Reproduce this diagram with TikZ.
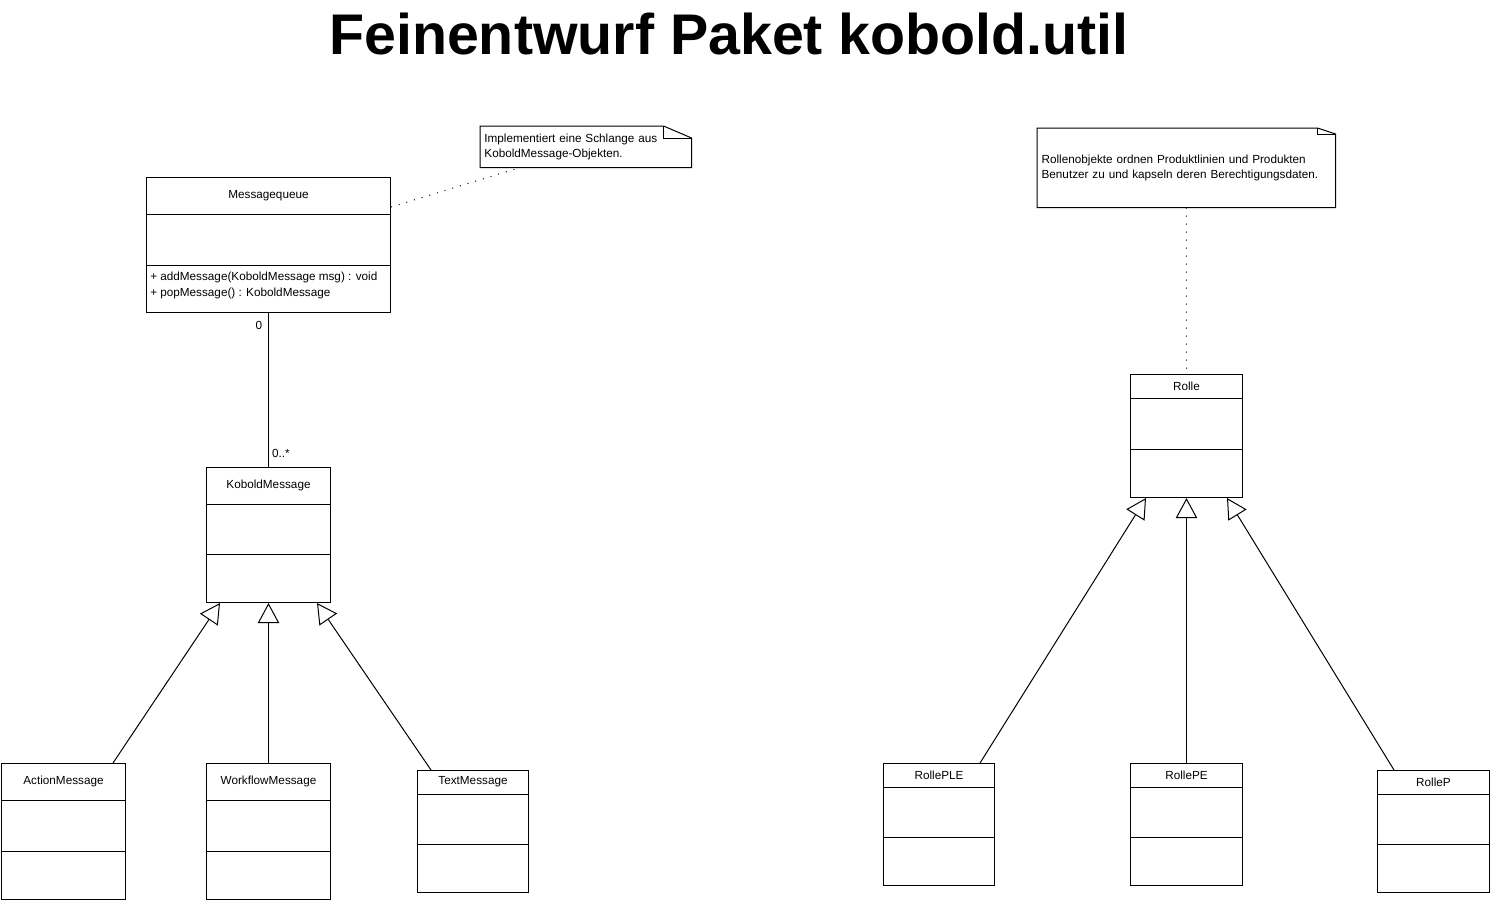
\documentclass[tikz,border=0pt]{standalone}
\usepackage{fontspec}
\setmainfont{Liberation Sans}
\usetikzlibrary{arrows.meta}

\tikzset{
  classbox/.style={draw, line width=0.75pt, inner sep=0pt, fill=white},
  classname/.style={font=\fontsize{8.8}{11.5}\selectfont, inner sep=0pt},
  members/.style={font=\fontsize{8.8}{12}\selectfont, align=left, inner sep=0pt, anchor=west},
  notebox/.style={font=\fontsize{8.8}{11.3}\selectfont, align=left, inner xsep=3pt, inner ysep=0pt, anchor=north west},
  mult/.style={font=\fontsize{8.8}{11.5}\selectfont, inner sep=0pt},
  assoc/.style={line width=0.75pt},
  inherit/.style={line width=0.75pt, -{Triangle[open, length=15pt, width=16pt]}},
  notelink/.style={line width=0.75pt, dash pattern=on 0.75pt off 5.25pt},
  title/.style={font=\fontsize{43}{50}\selectfont\bfseries, inner sep=0pt, anchor=base}
}

% #1 name, #2 x, #3 y, #4 width, #5 height, #6 and #7 divider offsets, #8 class name
\newcommand{\umlclass}[8]{%
  \node[classbox, anchor=north west, minimum width=#4*0.75pt, minimum height=#5*0.75pt] (#1) at (#2,#3) {};
  \draw[line width=0.75pt] ([yshift=-#6*0.75pt]#1.north west) -- ([yshift=-#6*0.75pt]#1.north east);
  \draw[line width=0.75pt] ([yshift=-#7*0.75pt]#1.north west) -- ([yshift=-#7*0.75pt]#1.north east);
  \node[classname] (#1-name) at ([yshift=-#6*0.375pt]#1.north) {#8};
}

% #1 name, #2 x, #3 y, #4 width, #5 height, #6 fold width, #7 fold height, #8 text width, #9 text
\newcommand{\umlnote}[9]{%
  \node[notebox, minimum width=#4*0.75pt, minimum height=#5*0.75pt, text width=#8] (#1) at (#2,#3) {#9};
  \draw[line width=0.75pt] (#1.north west) -- ([xshift=-#6*0.75pt]#1.north east) -- ([yshift=-#7*0.75pt]#1.north east) -- (#1.south east) -- (#1.south west) -- cycle;
  \draw[line width=0.75pt] ([xshift=-#6*0.75pt]#1.north east) |- ([yshift=-#7*0.75pt]#1.north east);
}

\begin{document}
\begin{tikzpicture}[x=0.75pt, y=-0.75pt]
\useasboundingbox (0,0) rectangle (1491,901);

\node[title] (title) at (729,54) {Feinentwurf Paket kobold.util};

% left package part
\umlclass{queue}{146}{177}{244}{135}{37}{88}{Messagequeue}
\node[members] (queue-ops) at ([xshift=4*0.75pt, yshift=-108*0.75pt]queue.north west) {+ addMessage(KoboldMessage msg) : void\\+ popMessage() : KoboldMessage};
\umlnote{note1}{480}{126}{211}{41}{28}{12}{152pt}{Implementiert eine Schlange aus\\KoboldMessage-Objekten.}

\umlclass{kobold}{206}{467}{124}{135}{37}{87}{KoboldMessage}
\umlclass{action}{1}{763}{124}{136}{37}{88}{ActionMessage}
\umlclass{workflow}{206}{763}{124}{136}{37}{88}{WorkflowMessage}
\umlclass{textmsg}{417}{770}{111}{122}{24}{74}{TextMessage}

\draw[notelink] ([yshift=-30*0.75pt]queue.north east) -- ([xshift=40*0.75pt]note1.south west);
\draw[assoc] (queue.south) -- (kobold.north);
\node[mult] (m-queue) at (259,325) {0};
\node[mult] (m-kobold) at (281,453) {0..*};

\draw[inherit] ([xshift=-13*0.75pt]action.north east) -- ([xshift=14*0.75pt]kobold.south west);
\draw[inherit] (workflow.north) -- (kobold.south);
\draw[inherit] ([xshift=14*0.75pt]textmsg.north west) -- ([xshift=-14*0.75pt]kobold.south east);

% right package part
\umlnote{note2}{1037}{128}{298}{79}{18}{6}{217pt}{Rollenobjekte ordnen Produktlinien und Produkten\\Benutzer zu und kapseln deren Berechtigungsdaten.}

\umlclass{rolle}{1130}{374}{112}{123}{24}{75}{Rolle}
\umlclass{rolleple}{883}{763}{111}{122}{24}{74}{RollePLE}
\umlclass{rollepe}{1130}{763}{112}{122}{24}{74}{RollePE}
\umlclass{rollep}{1377}{770}{112}{122}{24}{74}{RolleP}

\draw[notelink] (note2.south) -- (rolle.north);

\draw[inherit] ([xshift=-15*0.75pt]rolleple.north east) -- ([xshift=16*0.75pt]rolle.south west);
\draw[inherit] (rollepe.north) -- (rolle.south);
\draw[inherit] ([xshift=17*0.75pt]rollep.north west) -- ([xshift=-16*0.75pt]rolle.south east);
\end{tikzpicture}
\end{document}
